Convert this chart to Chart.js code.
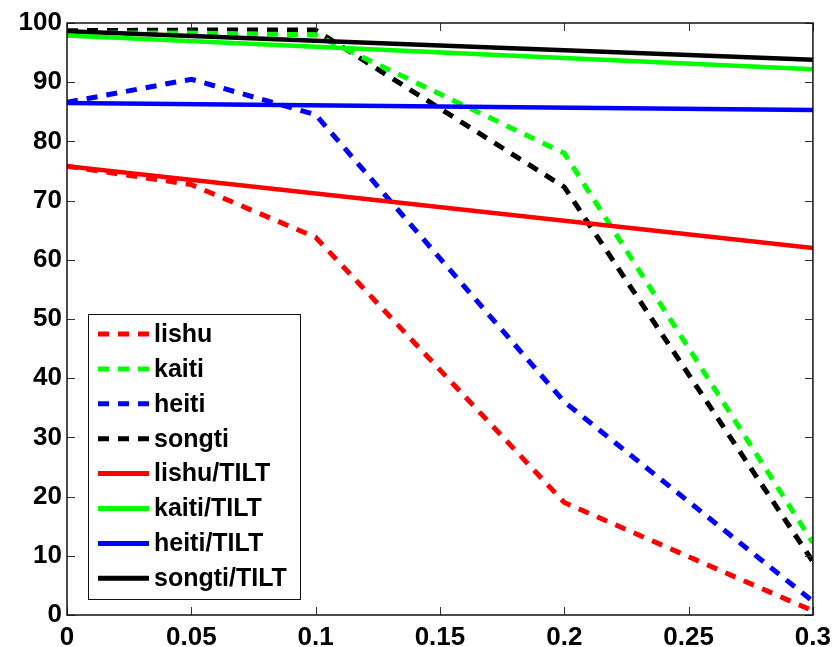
<!DOCTYPE html>
<html>
<head>
<meta charset="utf-8">
<script src="https://cdn.jsdelivr.net/npm/chart.js@4/dist/chart.umd.min.js"></script>
<style>
  html, body { margin: 0; padding: 0; background: #fff; }
  #wrap { width: 838px; height: 647px; }
</style>
</head>
<body>
<div id="wrap"><canvas id="c" width="838" height="647"></canvas></div>
<script>
// Sample positions and measured recognition rates
const xDashed = [0, 0.05, 0.1, 0.2, 0.3];
const lishu  = [75.8, 72.7, 63.8, 19.0, 0.7];
const kaiti  = [98.3, 98.3, 98.0, 78.0, 12.2];
const heiti  = [86.6, 90.5, 84.5, 36.0, 2.3];
const songti = [98.7, 98.8, 98.8, 72.3, 9.0];

// TILT results (fitted straight lines)
const xTilt = [0, 0.3];
const lishuTilt  = [75.8, 62.0];
const kaitiTilt  = [97.9, 92.2];
const heitiTilt  = [86.5, 85.3];
const songtiTilt = [98.6, 93.8];

const xTicks = [0, 0.05, 0.1, 0.15, 0.2, 0.25, 0.3];
const yTicks = [0, 10, 20, 30, 40, 50, 60, 70, 80, 90, 100];

const seriesNames = ['lishu', 'kaiti', 'heiti', 'songti',
                     'lishu/TILT', 'kaiti/TILT', 'heiti/TILT', 'songti/TILT'];
const seriesColors = ['#ff0000', '#00ff00', '#0000ff', '#000000',
                      '#ff0000', '#00ff00', '#0000ff', '#000000'];

const DASH = [11, 9];
const FAMILY = '"Liberation Sans", Arial, sans-serif';

function pts(xs, ys) { return xs.map((x, i) => ({ x: x, y: ys[i] })); }

const dashedSets = [lishu, kaiti, heiti, songti].map((ys, i) => ({
  label: seriesNames[i],
  data: pts(xDashed, ys),
  borderColor: seriesColors[i],
  borderWidth: 5,
  borderDash: DASH,
  pointRadius: 0,
  tension: 0,
  order: 1
}));
const solidSets = [lishuTilt, kaitiTilt, heitiTilt, songtiTilt].map((ys, i) => ({
  label: seriesNames[i + 4],
  data: pts(xTilt, ys),
  borderColor: seriesColors[i + 4],
  borderWidth: 4.5,
  pointRadius: 0,
  tension: 0,
  order: 0
}));

// Axes box, inward tick marks, and the boxed legend inside the plot
const framePlugin = {
  id: 'frame',
  afterDatasetsDraw(chart) {
    const ctx = chart.ctx;
    const a = chart.chartArea;
    const xs = chart.scales.x, ys = chart.scales.y;
    ctx.save();
    // tick marks on all four sides, pointing inward
    ctx.strokeStyle = '#333';
    ctx.lineWidth = 1;
    const tl = 8;
    ctx.beginPath();
    xTicks.forEach(v => {
      const px = Math.round(xs.getPixelForValue(v)) + 0.5;
      ctx.moveTo(px, a.bottom); ctx.lineTo(px, a.bottom - tl);
      ctx.moveTo(px, a.top); ctx.lineTo(px, a.top + tl);
    });
    yTicks.forEach(v => {
      const py = Math.round(ys.getPixelForValue(v)) + 0.5;
      ctx.moveTo(a.left, py); ctx.lineTo(a.left + tl, py);
      ctx.moveTo(a.right, py); ctx.lineTo(a.right - tl, py);
    });
    ctx.stroke();
    // frame
    ctx.strokeStyle = '#111';
    ctx.lineWidth = 1.5;
    ctx.strokeRect(a.left, a.top, a.right - a.left, a.bottom - a.top);

    // legend
    const lx = a.left + 21, ly = 314, lw = 212, lh = 285;
    ctx.fillStyle = '#fff';
    ctx.fillRect(lx, ly, lw, lh);
    ctx.strokeStyle = '#111';
    ctx.lineWidth = 1;
    ctx.strokeRect(lx + 0.5, ly + 0.5, lw, lh);
    const step = 34.9;
    ctx.font = 'bold 25px ' + FAMILY;
    ctx.textBaseline = 'middle';
    ctx.textAlign = 'left';
    chart.data.datasets.forEach((ds, i) => {
      const cy = ly + 20 + i * step;
      ctx.beginPath();
      ctx.strokeStyle = ds.borderColor;
      ctx.lineWidth = 5;
      ctx.setLineDash(ds.borderDash ? DASH : []);
      ctx.moveTo(lx + 10, cy);
      ctx.lineTo(lx + 61, cy);
      ctx.stroke();
      ctx.setLineDash([]);
      ctx.fillStyle = '#000';
      ctx.fillText(ds.label, lx + 66, cy + 1);
    });
    ctx.restore();
  }
};

new Chart(document.getElementById('c'), {
  type: 'line',
  data: { datasets: dashedSets.concat(solidSets) },
  options: {
    responsive: false,
    animation: false,
    devicePixelRatio: 1,
    layout: { padding: { top: 23, right: 20, left: 0, bottom: 0 } },
    plugins: { legend: { display: false }, tooltip: { enabled: false } },
    scales: {
      x: {
        type: 'linear',
        min: 0, max: 0.3,
        afterBuildTicks(s) { s.ticks = xTicks.map(v => ({ value: v })); },
        afterFit(s) { s.height = 32; },
        grid: { display: false, drawTicks: false },
        border: { display: false },
        ticks: {
          color: '#000',
          font: { family: FAMILY, size: 26, weight: 'bold' },
          padding: 7,
          maxRotation: 0,
          callback: v => String(Math.round(v * 100) / 100)
        }
      },
      y: {
        min: 0, max: 100,
        afterBuildTicks(s) { s.ticks = yTicks.map(v => ({ value: v })); },
        afterFit(s) { s.width = 67; },
        grid: { display: false, drawTicks: false },
        border: { display: false },
        ticks: {
          color: '#000',
          font: { family: FAMILY, size: 26, weight: 'bold' },
          padding: 5
        }
      }
    }
  },
  plugins: [framePlugin]
});
</script>
</body>
</html>
